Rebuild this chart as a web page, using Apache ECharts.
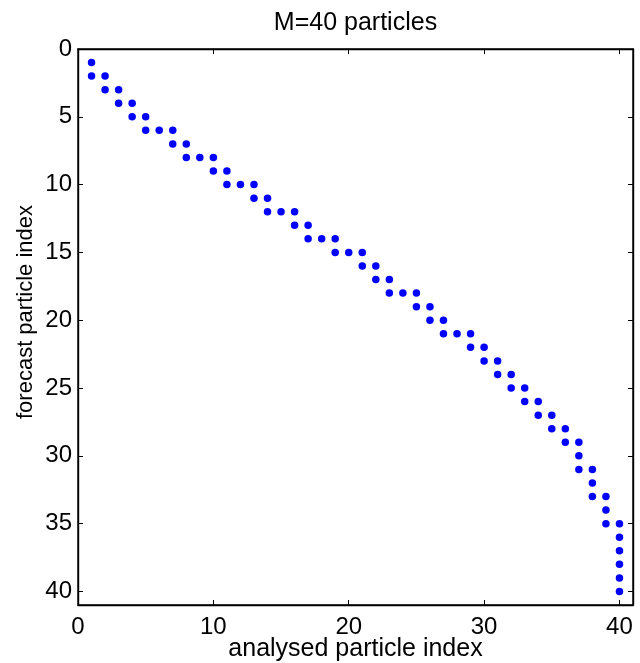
<!DOCTYPE html>
<html>
<head>
<meta charset="utf-8">
<script src="https://cdn.jsdelivr.net/npm/echarts@6/dist/echarts.min.js"></script>
<style>
html,body{margin:0;padding:0;background:#fff;}
#chart{width:640px;height:663px;}
</style>
</head>
<body>
<div id="chart"></div>
<script>
var titleText = 'M=40 particles';
var xAxisName = 'analysed particle index';
var yAxisName = 'forecast particle index';

var analysed = [1, 1,2, 2,3, 3,4, 4,5, 5,6,7, 7,8, 8,9,10, 10,11, 11,12,13, 13,14,
  14,15,16, 16,17, 17,18,19, 19,20,21, 21,22, 22,23, 23,24,25, 25,26, 26,27,
  27,28,29, 29,30, 30,31, 31,32, 32,33, 33,34, 34,35, 35,36, 36,37, 37, 37,38,
  38, 38,39, 39, 39,40, 40,40,40,40,40];
var forecast = [1, 2,2, 3,3, 4,4, 5,5, 6,6,6, 7,7, 8,8,8, 9,9, 10,10,10, 11,11,
  12,12,12, 13,13, 14,14,14, 15,15,15, 16,16, 17,17, 18,18,18, 19,19, 20,20,
  21,21,21, 22,22, 23,23, 24,24, 25,25, 26,26, 27,27, 28,28, 29,29, 30, 31,31,
  32, 33,33, 34, 35,35, 36,37,38,39,40];

var xTicks = [0, 10, 20, 30, 40];
var yTicks = [0, 5, 10, 15, 20, 25, 30, 35, 40];

var points = analysed.map(function (a, i) { return [a, forecast[i]]; });

var FONT = 'Liberation Sans, Arial, Helvetica, sans-serif';
var FS_TICK = 24, FS_TITLE = 25, FS_XNAME = 25, FS_YNAME = 22;

var gridLeft = 78, gridRight = 7, gridTop = 49, gridBottom = 58;
var plotCenterX = gridLeft + (640 - gridLeft - gridRight) / 2;
var ctx = document.createElement('canvas').getContext('2d');
ctx.font = FS_TITLE + 'px ' + FONT;
var tw = ctx.measureText(titleText).width;

function xFmt(v) { return xTicks.indexOf(v) >= 0 ? String(v) : ''; }
function yFmt(v) { return yTicks.indexOf(v) >= 0 ? String(v) : ''; }

var axisLineStyle = { color: '#000', width: 1.4 };
var tickStyle = { color: '#000', width: 1 };

var chart = echarts.init(document.getElementById('chart'), null, { renderer: 'canvas' });
chart.setOption({
  animation: false,
  backgroundColor: '#fff',
  title: {
    text: titleText,
    left: plotCenterX - tw / 2 - 5,
    top: 6,
    textStyle: { fontFamily: FONT, fontSize: FS_TITLE, fontWeight: 'normal', color: '#000' }
  },
  grid: {
    left: gridLeft, right: gridRight, top: gridTop, bottom: gridBottom,
    containLabel: false, outerBoundsMode: 'none',
    show: true, borderColor: '#000', borderWidth: 1.4, backgroundColor: '#fff'
  },
  xAxis: [{
    type: 'value', min: 0, max: 41, interval: 10, position: 'bottom',
    name: xAxisName, nameLocation: 'middle', nameGap: 32, nameMoveOverlap: false,
    nameTextStyle: { fontFamily: FONT, fontSize: FS_XNAME, color: '#000' },
    axisLine: { show: true, onZero: false, lineStyle: axisLineStyle },
    axisTick: { show: true, inside: true, length: 5, lineStyle: tickStyle },
    axisLabel: { fontFamily: FONT, fontSize: FS_TICK, color: '#000', margin: 10, formatter: xFmt },
    splitLine: { show: false }
  }, {
    type: 'value', min: 0, max: 41, interval: 10, position: 'top',
    axisLine: { show: true, onZero: false, lineStyle: axisLineStyle },
    axisTick: { show: true, inside: true, length: 5, lineStyle: tickStyle },
    axisLabel: { show: false },
    splitLine: { show: false }
  }],
  yAxis: [{
    type: 'value', min: 0, max: 41, interval: 5, inverse: true, position: 'left',
    name: yAxisName, nameLocation: 'middle', nameGap: 41, nameRotate: 90, nameMoveOverlap: false,
    nameTextStyle: { fontFamily: FONT, fontSize: FS_YNAME, color: '#000', padding: [0, 0, 0, 30] },
    axisLine: { show: true, onZero: false, lineStyle: axisLineStyle },
    axisTick: { show: true, inside: true, length: 5, lineStyle: tickStyle },
    axisLabel: { fontFamily: FONT, fontSize: FS_TICK, color: '#000', margin: 6, formatter: yFmt },
    splitLine: { show: false }
  }, {
    type: 'value', min: 0, max: 41, interval: 5, inverse: true, position: 'right',
    axisLine: { show: true, onZero: false, lineStyle: axisLineStyle },
    axisTick: { show: true, inside: true, length: 5, lineStyle: tickStyle },
    axisLabel: { show: false },
    splitLine: { show: false }
  }],
  series: [{
    type: 'scatter',
    xAxisIndex: 0, yAxisIndex: 0,
    data: points,
    symbol: 'circle',
    symbolSize: 7.5,
    itemStyle: { color: '#0000ff', opacity: 1 }
  }]
});
</script>
</body>
</html>
